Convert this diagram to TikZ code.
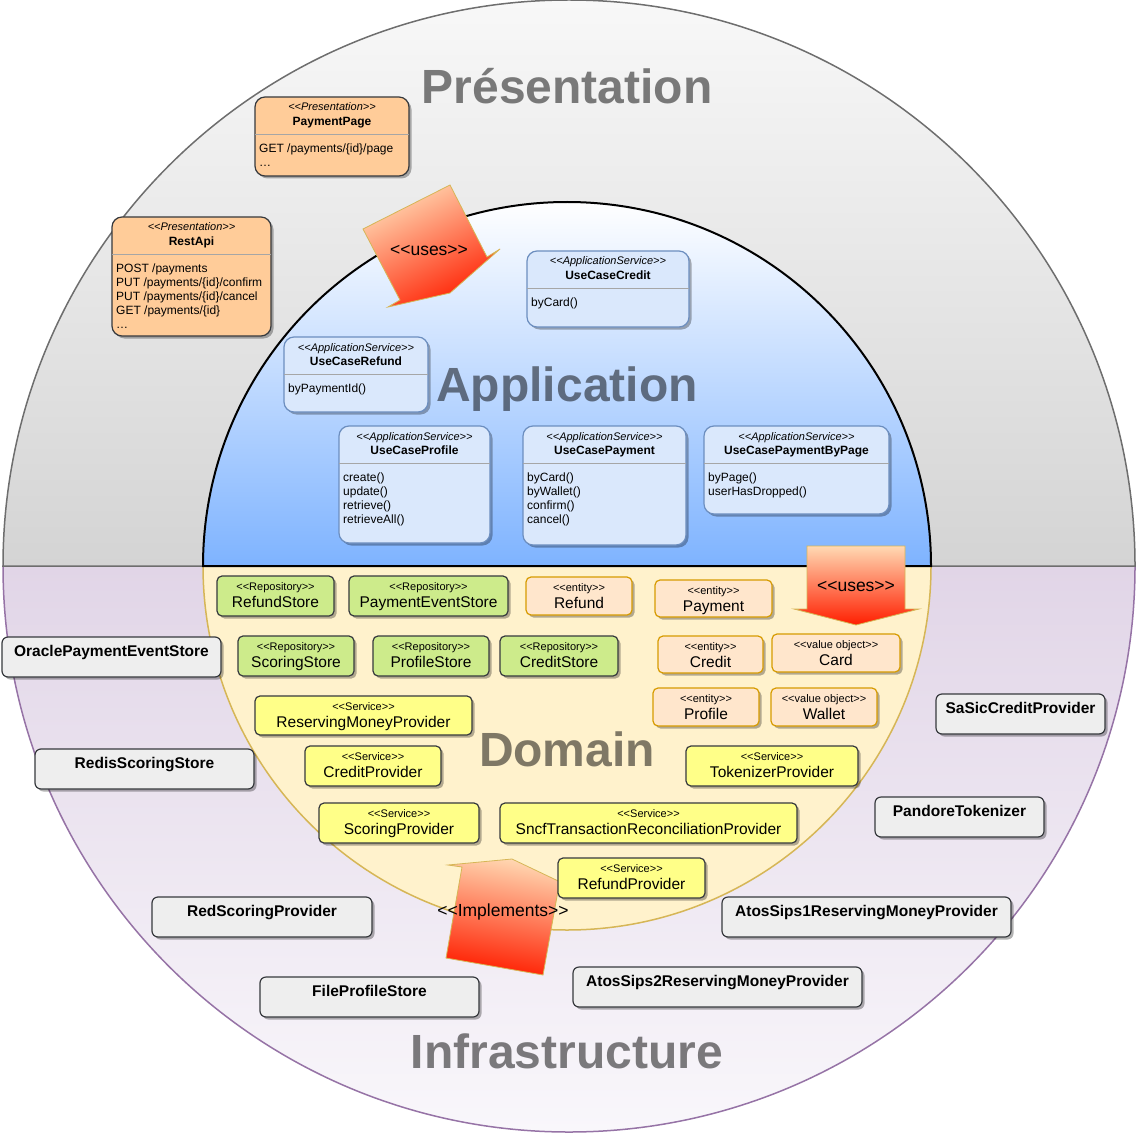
\documentclass[tikz,border=0pt]{standalone}
\usepackage{fontspec}
\setmainfont{Liberation Sans}[Ligatures=TeXOff]
\usetikzlibrary{shadows}
\definecolor{presFill}{HTML}{FFCC99}
\definecolor{darkLine}{HTML}{36393D}
\definecolor{appFill}{HTML}{DAE8FC}
\definecolor{appDraw}{HTML}{6C8EBF}
\definecolor{appBot}{HTML}{7EB3FF}
\definecolor{repoFill}{HTML}{CDEB8B}
\definecolor{entFill}{HTML}{FFE6CC}
\definecolor{entDraw}{HTML}{D79B00}
\definecolor{servFill}{HTML}{FFFF88}
\definecolor{infraFill}{HTML}{EEEEEE}
\definecolor{domFill}{HTML}{FFF2CC}
\definecolor{domDraw}{HTML}{D6B656}
\definecolor{outTop}{HTML}{F8F8F8}
\definecolor{outBot}{HTML}{D4D4D4}
\definecolor{outDraw}{HTML}{6E6E6E}
\definecolor{infTop}{HTML}{E1D5E7}
\definecolor{infBot}{HTML}{F9F7FB}
\definecolor{infDraw}{HTML}{9673A6}
\definecolor{arrTop}{HTML}{FFD9B3}
\definecolor{arrBot}{HTML}{FF1E00}
\begin{document}
\begin{tikzpicture}[x=1pt,y=-1pt,
  box/.style={line width=1.2pt,inner sep=0pt,
    drop shadow={shadow xshift=2.5pt,shadow yshift=-2.5pt,opacity=.3,fill=black}},
  stereo/.style={anchor=base,inner sep=0pt,font=\fontsize{11}{13}\selectfont},
  clsname/.style={anchor=base,inner sep=0pt,font=\fontsize{12}{14}\selectfont\bfseries},
  op/.style={anchor=base west,inner sep=0pt,font=\fontsize{12}{14}\selectfont},
  dname/.style={anchor=base,inner sep=0pt,font=\fontsize{15.5}{17}\selectfont},
  iname/.style={anchor=base,inner sep=0pt,font=\fontsize{15.5}{17}\selectfont\bfseries},
  layer/.style={anchor=base,inner sep=0pt,font=\fontsize{48}{50}\selectfont\bfseries,text opacity=.5},
  bigarrow/.style={draw=domDraw,line width=.8pt,top color=arrTop,bottom color=arrBot},
  arrlabel/.style={inner sep=0pt,font=\fontsize{17.5}{19}\selectfont}]
\useasboundingbox (0,0) rectangle (1138,1139);

% the four layers
\shade[top color=infTop,bottom color=infBot,draw=infDraw,line width=1.5pt] (3,566) arc (180:0:566) -- cycle;
\shade[top color=outTop,bottom color=outBot,draw=outDraw,line width=1.5pt] (3,566) arc (180:360:566) -- cycle;
\draw[fill=domFill,draw=domDraw,line width=1.5pt] (203,566) arc (180:0:364) -- cycle;
\shade[top color=white,bottom color=appBot,draw=black,line width=2pt] (203,566) arc (180:360:364) -- cycle;

\node[layer] (presTitle) at (567,104) {Présentation};
\node[layer] (appTitle) at (567,401) {Application};
\node[layer] (domTitle) at (567,766) {Domain};
\node[layer] (infTitle) at (567,1068) {Infrastructure};

% block arrows
\shade[bigarrow,shading angle=27] (450,185) -- (363,229) -- (400,300) -- (388,307) -- (450,293) -- (500,249) -- (487,257) -- cycle;
\node[arrlabel] (usesPres) at (429,250) {<<uses>>};
\shade[bigarrow] (807,546) -- (905,546) -- (905,609) -- (919,609) -- (856,625) -- (794,609) -- (807,609) -- cycle;
\node[arrlabel] (usesDom) at (856,586) {<<uses>>};
\shade[bigarrow,shading angle=-10] (446,958) -- (543,975) -- (559,885) -- (573,888) -- (512,859) -- (448,865) -- (462,867) -- cycle;
\node[arrlabel] (implInf) at (503,912) {<<Implements>>};

% presentation and application classes
\foreach \n/\x/\y/\w/\h/\fc/\dc/\st/\nm/\ops in {
  paymentPage/255/97/154/79/presFill/darkLine/Presentation/PaymentPage/{GET /payments/\{id\}/page,\dots},
  restApi/112/217/159/119/presFill/darkLine/Presentation/RestApi/{POST /payments,PUT /payments/\{id\}/confirm,PUT /payments/\{id\}/cancel,GET /payments/\{id\},\dots},
  ucCredit/527/251/162/76/appFill/appDraw/ApplicationService/UseCaseCredit/{byCard()},
  ucRefund/284/337/144/75/appFill/appDraw/ApplicationService/UseCaseRefund/{byPaymentId()},
  ucProfile/339/426/151/117/appFill/appDraw/ApplicationService/UseCaseProfile/{create(),update(),retrieve(),retrieveAll()},
  ucPayment/523/426/163/119/appFill/appDraw/ApplicationService/UseCasePayment/{byCard(),byWallet(),confirm(),cancel()},
  ucPaymentByPage/704/426/185/88/appFill/appDraw/ApplicationService/UseCasePaymentByPage/{byPage(),userHasDropped()}}{
  \node[box,rounded corners=10pt,fill=\fc,draw=\dc,minimum width=\w,minimum height=\h] (\n) at (\x+\w/2,\y+\h/2) {};
  \draw[gray!70,line width=.8pt] (\x,\y+37) -- (\x+\w,\y+37);
  \node[stereo] (\n-st) at (\x+\w/2,\y+14) {\textit{<<\st>>}};
  \node[clsname] (\n-nm) at (\x+\w/2,\y+28.5) {\nm};
  \foreach \o [count=\k] in \ops
    \node[op] (\n-op\k) at (\x+4,\y+41.5+14*\k) {\o};
}

% domain
\foreach \n/\x/\y/\w/\h/\fc/\dc/\st/\nm in {
  refundStore/217/576/117/40/repoFill/darkLine/Repository/RefundStore,
  paymentEventStore/349/576/159/40/repoFill/darkLine/Repository/PaymentEventStore,
  scoringStore/238/636/116/40/repoFill/darkLine/Repository/ScoringStore,
  profileStore/373/636/116/40/repoFill/darkLine/Repository/ProfileStore,
  creditStore/500/636/118/40/repoFill/darkLine/Repository/CreditStore,
  refund/526/577/106/38/entFill/entDraw/entity/Refund,
  payment/655/580/117/37/entFill/entDraw/entity/Payment,
  credit/658/636/105/37/entFill/entDraw/entity/Credit,
  card/772/634/128/38/entFill/entDraw/value object/Card,
  profile/653/688/106/38/entFill/entDraw/entity/Profile,
  wallet/771/688/106/38/entFill/entDraw/value object/Wallet,
  reservingMoneyProvider/255/696/217/39/servFill/darkLine/Service/ReservingMoneyProvider,
  creditProvider/305/746/136/40/servFill/darkLine/Service/CreditProvider,
  tokenizerProvider/686/746/172/40/servFill/darkLine/Service/TokenizerProvider,
  scoringProvider/319/803/160/40/servFill/darkLine/Service/ScoringProvider,
  sncfProvider/500/803/297/40/servFill/darkLine/Service/SncfTransactionReconciliationProvider,
  refundProvider/558/858/147/40/servFill/darkLine/Service/RefundProvider}{
  \node[box,rounded corners=5pt,fill=\fc,draw=\dc,minimum width=\w,minimum height=\h] (\n) at (\x+\w/2,\y+\h/2) {};
  \node[stereo] (\n-st) at (\x+\w/2,\y+14) {<<\st>>};
  \node[dname] (\n-nm) at (\x+\w/2,\y+31.5) {\nm};
}

% infrastructure
\foreach \n/\x/\y/\w/\nm in {
  oraclePaymentEventStore/2/637/219/OraclePaymentEventStore,
  redisScoringStore/35/749/219/RedisScoringStore,
  saSicCreditProvider/936/694/169/SaSicCreditProvider,
  pandoreTokenizer/875/797/169/PandoreTokenizer,
  redScoringProvider/152/897/220/RedScoringProvider,
  atosSips1Provider/722/897/289/AtosSips1ReservingMoneyProvider,
  fileProfileStore/260/977/219/FileProfileStore,
  atosSips2Provider/573/967/289/AtosSips2ReservingMoneyProvider}{
  \node[box,rounded corners=6pt,fill=infraFill,draw=darkLine,minimum width=\w,minimum height=40] (\n) at (\x+\w/2,\y+20) {};
  \node[iname] (\n-nm) at (\x+\w/2,\y+19) {\nm};
}
\end{tikzpicture}
\end{document}
